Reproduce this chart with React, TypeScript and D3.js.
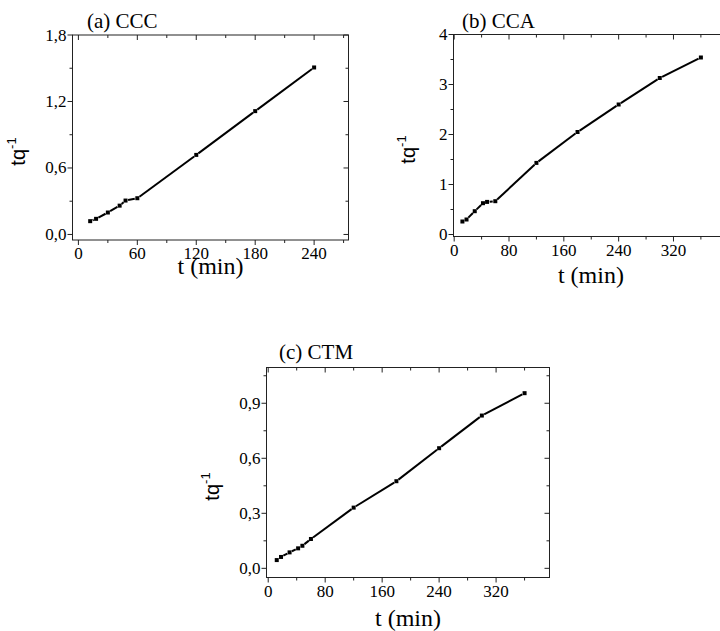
import React from "react";
import * as d3 from "d3";

const timesAB = [12, 18, 30, 42, 48, 60, 120, 180, 240];
const qA = [0.12, 0.141, 0.198, 0.26, 0.306, 0.327, 0.718, 1.113, 1.507];
const timesBC = [12, 18, 30, 42, 48, 60, 120, 180, 240, 300, 360];
const qB = [0.26, 0.3, 0.466, 0.626, 0.652, 0.666, 1.432, 2.05, 2.6, 3.13, 3.54];
const qC = [0.045, 0.062, 0.087, 0.109, 0.123, 0.16, 0.331, 0.475, 0.655, 0.833, 0.955];

const titles = ["(a) CCC", "(b) CCA", "(c) CTM"];
const xTicksA = [0, 60, 120, 180, 240];
const xMinorA = [30, 90, 150, 210, 270];
const yTicksA = [0, 0.6, 1.2, 1.8];
const yMinorA = [0.3, 0.9, 1.5];
const xTicksB = [0, 80, 160, 240, 320];
const xMinorB = [40, 120, 200, 280, 360];
const yTicksB = [0, 1, 2, 3, 4];
const yMinorB = [0.5, 1.5, 2.5, 3.5];
const yTicksC = [0, 0.3, 0.6, 0.9];
const yMinorC = [0.15, 0.45, 0.75, 1.05];

const SERIF = "Liberation Serif, Tinos, Times New Roman, DejaVu Serif, serif";
const SANS = "Liberation Sans, Arimo, Arial, sans-serif";

type PanelProps = {
  title: string;
  t: number[];
  q: number[];
  box: [number, number, number, number];
  xDomain: [number, number];
  yDomain: [number, number];
  xTicks: number[];
  xMinor: number[];
  yTicks: number[];
  yMinor: number[];
  yFmt: (v: number) => string;
  yLabelX: number;
  titleX: number;
  titleY: number;
  xLabelY: number;
};

function Panel(p: PanelProps) {
  const [x0, y0, x1, y1] = p.box;
  const xs = d3.scaleLinear().domain(p.xDomain).range([x0, x1]);
  const ys = d3.scaleLinear().domain(p.yDomain).range([y1, y0]);
  const pts = p.t.map((t, i) => [xs(t), ys(p.q[i])] as [number, number]);
  const gap = 2.6;
  const segs: string[] = [];
  for (let i = 0; i < pts.length - 1; i++) {
    const [ax, ay] = pts[i];
    const [bx, by] = pts[i + 1];
    const len = Math.hypot(bx - ax, by - ay);
    if (len <= gap * 2) continue;
    const ux = (bx - ax) / len, uy = (by - ay) / len;
    segs.push(
      d3.line()([
        [ax + ux * gap, ay + uy * gap],
        [bx - ux * gap, by - uy * gap],
      ]) as string
    );
  }
  const maj = 5, mnr = 3;
  const axisColor = "#222";
  const xMid = (x0 + x1) / 2;
  const yMid = (y0 + y1) / 2;
  const serif = { fontFamily: SERIF };
  return (
    <g>
      <rect x={x0} y={y0} width={x1 - x0} height={y1 - y0} fill="none" stroke={axisColor} strokeWidth={1} />
      {p.xTicks.map((v) => (
        <g key={"xt" + v}>
          <line x1={xs(v)} x2={xs(v)} y1={y1} y2={y1 + maj} stroke={axisColor} />
          <line x1={xs(v)} x2={xs(v)} y1={y0} y2={y0 + maj} stroke={axisColor} />
          <text x={xs(v)} y={y1 + 19} textAnchor="middle" style={serif} fontSize={17}>
            {String(v)}
          </text>
        </g>
      ))}
      {p.xMinor.filter((v) => xs(v) <= x1 + 2).map((v) => (
        <g key={"xm" + v}>
          <line x1={xs(v)} x2={xs(v)} y1={y1} y2={y1 + mnr} stroke={axisColor} />
          <line x1={xs(v)} x2={xs(v)} y1={y0} y2={y0 + mnr} stroke={axisColor} />
        </g>
      ))}
      {p.yTicks.map((v) => (
        <g key={"yt" + v}>
          <line x1={x0 - maj} x2={x0} y1={ys(v)} y2={ys(v)} stroke={axisColor} />
          <line x1={x1 - maj} x2={x1} y1={ys(v)} y2={ys(v)} stroke={axisColor} />
          <text x={x0 - 6} y={ys(v) + 5.5} textAnchor="end" style={serif} fontSize={17}>
            {p.yFmt(v)}
          </text>
        </g>
      ))}
      {p.yMinor.map((v) => (
        <g key={"ym" + v}>
          <line x1={x0 - mnr} x2={x0} y1={ys(v)} y2={ys(v)} stroke={axisColor} />
          <line x1={x1 - mnr} x2={x1} y1={ys(v)} y2={ys(v)} stroke={axisColor} />
        </g>
      ))}
      {segs.map((d, i) => (
        <path key={"s" + i} d={d} fill="none" stroke="#000" strokeWidth={2} />
      ))}
      {pts.map(([px, py], i) => (
        <rect key={"p" + i} x={px - 2} y={py - 2} width={4} height={4} fill="#000" />
      ))}
      <text x={p.titleX} y={p.titleY} style={serif} fontSize={21}>
        {p.title}
      </text>
      <text x={xMid} y={p.xLabelY} textAnchor="middle" style={serif} fontSize={24}>
        t (min)
      </text>
      <text
        transform={`translate(${p.yLabelX},${yMid + 14}) rotate(-90)`}
        textAnchor="middle"
        style={{ fontFamily: SANS }}
        fontSize={20}
      >
        tq<tspan dy={-9} fontSize={13}>-1</tspan>
      </text>
    </g>
  );
}

const fmt1 = (v: number) => d3.format(".1f")(v).replace(".", ",");
const fmt0 = (v: number) => d3.format("d")(v);

export default function App() {
  return (
    <svg
      width={720}
      height={631}
      style={{ position: "absolute", left: 0, top: 0, background: "#fff" }}
    >
      <rect x={0} y={0} width={720} height={631} fill="#fff" />
      <Panel
        title={titles[0]}
        t={timesAB}
        q={qA}
        box={[72.5, 35, 348.5, 240]}
        xDomain={[-6, 275]}
        yDomain={[-0.05, 1.8]}
        xTicks={xTicksA}
        xMinor={xMinorA}
        yTicks={yTicksA}
        yMinor={yMinorA}
        yFmt={fmt1}
        yLabelX={25}
        titleX={87}
        titleY={28}
        xLabelY={274}
      />
      <Panel
        title={titles[1]}
        t={timesBC}
        q={qB}
        box={[453.5, 34.5, 728.3, 236.5]}
        xDomain={[-1, 400]}
        yDomain={[-0.04, 4]}
        xTicks={xTicksB}
        xMinor={xMinorB}
        yTicks={yTicksB}
        yMinor={yMinorB}
        yFmt={fmt0}
        yLabelX={415}
        titleX={462}
        titleY={28}
        xLabelY={283}
      />
      <Panel
        title={titles[2]}
        t={timesBC}
        q={qC}
        box={[266.5, 367.5, 549.5, 577.5]}
        xDomain={[-2.4, 395]}
        yDomain={[-0.05, 1.095]}
        xTicks={xTicksB}
        xMinor={xMinorB}
        yTicks={yTicksC}
        yMinor={yMinorC}
        yFmt={fmt1}
        yLabelX={219}
        titleX={279}
        titleY={359}
        xLabelY={626}
      />
    </svg>
  );
}
